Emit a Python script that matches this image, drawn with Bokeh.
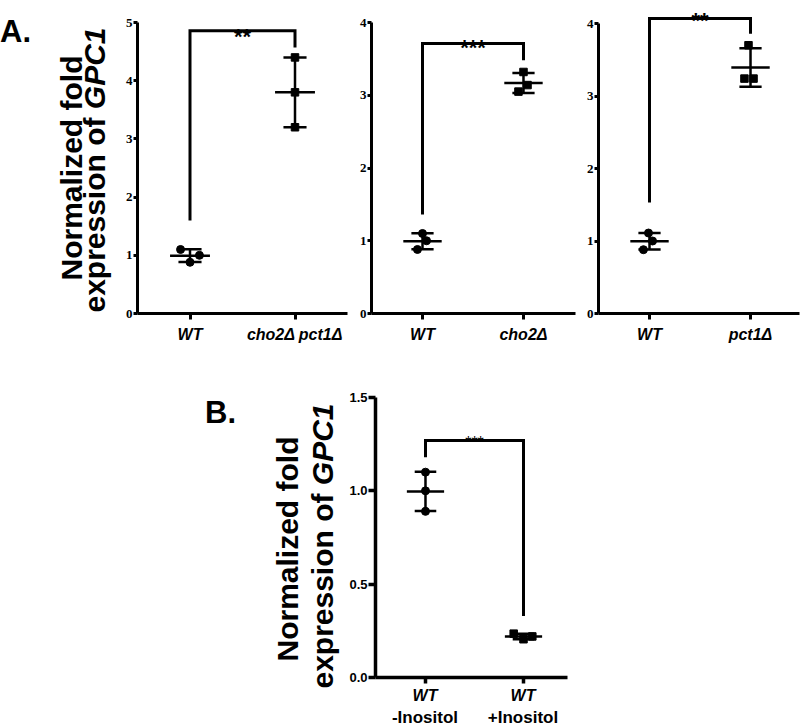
import numpy as np
from bokeh.plotting import figure
from bokeh.models import Label, FixedTicker, Range1d, NumeralTickFormatter, Div
from bokeh.layouts import row, column
from bokeh.embed import file_html
from bokeh.resources import INLINE

# ---------------- data ----------------
a1_groups = ["WT", "cho2Δ pct1Δ"]
a1_ctrl = [1.10, 1.00, 0.88]
a1_mut = [4.40, 3.80, 3.20]
a1_ctrl_jit = [-0.09, 0.09, 0.00]
a1_mut_jit = [0.0, 0.0, 0.0]
a1_yticks = [0, 1, 2, 3, 4, 5]
a1_sig = "**"
a1_bracket = [1.60, 4.86, 4.57]      # left leg end, top, right leg end

a2_groups = ["WT", "cho2Δ"]
a2_ctrl = [1.10, 1.00, 0.88]
a2_mut = [3.32, 3.14, 3.05]
a2_ctrl_jit = [0.0, 0.04, -0.05]
a2_mut_jit = [0.0, 0.04, -0.05]
a2_yticks = [0, 1, 2, 3, 4]
a2_sig = "***"
a2_bracket = [1.36, 3.71, 3.48]

a3_groups = ["WT", "pct1Δ"]
a3_ctrl = [1.11, 1.00, 0.88]
a3_mut = [3.70, 3.24, 3.24]
a3_ctrl_jit = [-0.01, 0.03, -0.06]
a3_mut_jit = [-0.02, -0.06, 0.03]
a3_yticks = [0, 1, 2, 3, 4]
a3_sig = "**"
a3_bracket = [1.53, 4.07, 3.86]

b_groups = ["WT", "WT"]
b_conditions = ["-Inositol", "+Inositol"]
b_ctrl = [1.10, 1.00, 0.89]
b_mut = [0.235, 0.205, 0.22]
b_ctrl_jit = [0.0, 0.0, 0.0]
b_mut_jit = [-0.10, 0.0, 0.09]
b_yticks = [0.0, 0.5, 1.0, 1.5]
b_sig = "***"
b_bracket = [1.18, 1.27, 0.33]

ylabel_line1 = "Normalized fold"
ylabel_line2 = "expression of"
ylabel_gene = "GPC1"

FONT = "Liberation Sans"
NARROW = "Liberation Sans Narrow"


class Geo:
    def __init__(self, cl, ct, w, h, bl, br, bt, bb, xr, yr):
        self.cl, self.ct, self.w, self.h = cl, ct, w, h
        self.bl, self.br, self.bt, self.bb = bl, br, bt, bb
        self.xr, self.yr = xr, yr
        self.xppu = (w - bl - br) / (xr[1] - xr[0])
        self.yppu = (h - bt - bb) / (yr[1] - yr[0])

    def sx(self, x):
        return self.cl + self.bl + (x - self.xr[0]) * self.xppu


def build(g, groups, ctrl, mut, ctrl_jit, mut_jit, yticks, sig, bracket,
          ytick_font, ytick_size, ytick_out, xlab_size, star_size, star_style, star_gap,
          axis_w, mean_hw=0.19, cap_hw=0.11, yformat=None, show_xlabels=True):
    p = figure(width=g.w, height=g.h, x_range=Range1d(*g.xr), y_range=Range1d(*g.yr),
               min_border_left=g.bl, min_border_right=g.br, min_border_top=g.bt,
               min_border_bottom=g.bb, output_backend="svg", toolbar_location=None,
               title=None)
    p.outline_line_color = None
    p.xgrid.visible = False
    p.ygrid.visible = False
    p.background_fill_color = "white"
    p.border_fill_color = "white"

    for ax in (p.xaxis[0], p.yaxis[0]):
        ax.axis_line_width = axis_w
        ax.axis_line_color = "black"
        ax.major_tick_line_width = axis_w
        ax.major_tick_line_color = "black"
        ax.major_tick_in = 0
        ax.minor_tick_line_color = None
    p.yaxis.ticker = FixedTicker(ticks=yticks)
    p.yaxis.bounds = (yticks[0], yticks[-1])
    p.yaxis.major_tick_out = ytick_out
    p.yaxis.major_label_standoff = 1
    p.yaxis.major_label_text_font = ytick_font
    p.yaxis.major_label_text_font_style = "bold"
    p.yaxis.major_label_text_font_size = ytick_size
    p.yaxis.major_label_text_color = "black"
    if yformat:
        p.yaxis.formatter = NumeralTickFormatter(format=yformat)
    p.xaxis.ticker = FixedTicker(ticks=[1, 2])
    p.xaxis.major_tick_out = 6
    if show_xlabels:
        p.xaxis.major_label_overrides = {1: groups[0], 2: groups[1]}
        p.xaxis.major_label_standoff = 6
        p.xaxis.major_label_text_font = FONT
        p.xaxis.major_label_text_font_style = "bold italic"
        p.xaxis.major_label_text_font_size = xlab_size
        p.xaxis.major_label_text_color = "black"
    else:
        p.xaxis.major_label_overrides = {1: "", 2: ""}
        p.xaxis.major_label_standoff = 0
        p.xaxis.major_label_text_font_size = "0px"

    for xc, vals, jit, marker, size in ((1, ctrl, ctrl_jit, "circle", 8),
                                         (2, mut, mut_jit, "square", 7.5)):
        v = np.asarray(vals, dtype=float)
        m = v.mean()
        sd = v.std(ddof=1)
        p.segment(x0=[xc], y0=[m - sd], x1=[xc], y1=[m + sd], line_width=2.5, line_color="black")
        p.segment(x0=[xc - mean_hw], y0=[m], x1=[xc + mean_hw], y1=[m], line_width=2.5, line_color="black")
        p.segment(x0=[xc - cap_hw, xc - cap_hw], y0=[m - sd, m + sd],
                  x1=[xc + cap_hw, xc + cap_hw], y1=[m - sd, m + sd],
                  line_width=2.5, line_color="black")
        p.scatter(x=list(xc + np.asarray(jit)), y=list(v), marker=marker, size=size,
                  fill_color="black", line_color="black")

    p.line(x=[1, 1, 2, 2], y=[bracket[0], bracket[1], bracket[1], bracket[2]],
           line_width=3, line_color="black", line_join="miter")
    p.add_layout(Label(x=1.5, y=bracket[1] - star_gap / g.yppu, text=sig, text_align="center",
                       text_baseline="alphabetic", text_font=FONT,
                       text_font_style=star_style, text_font_size=star_size,
                       text_color="black"))
    return p


def span(x, y, html, size, style="bold", rotate=False, anchor="center"):
    tr = "translate(-50%,-50%) rotate(-90deg)" if rotate else (
        "translate(-50%,0)" if anchor == "center" else "none")
    return (f"<span style=\"position:absolute;left:{x:.1f}px;top:{y:.1f}px;"
            f"transform:{tr};white-space:nowrap;font-family:'{FONT}';"
            f"font-weight:bold;font-style:{'italic' if 'italic' in style else 'normal'};"
            f"font-size:{size}px;line-height:1;color:black;\">{html}</span>")


def box(w, h, inner):
    return (f"<div style=\"position:relative;width:{w}px;height:{h}px;"
            f"overflow:hidden;margin:0;padding:0;\">{inner}</div>")


# geometry (page px): canvas left/top, size, borders, ranges
gA1 = Geo(120, 0, 229, 348, 17, 2, 0, 35, (0.5, 2.5), (0, 313 / 58.2))
gA2 = Geo(349, 0, 228, 348, 22, 2, 0, 35, (0.495, 2.515), (0, 313 / 72.75))
gA3 = Geo(577, 0, 223, 348, 21, 1, 0, 35, (0.495, 2.485), (0, 313 / 72.5))
gB = Geo(345, 348, 225, 338, 30, 3, 42, 9, (0.49, 2.449), (0, 287 / 186.67))

pA1 = build(gA1, a1_groups, a1_ctrl, a1_mut, a1_ctrl_jit, a1_mut_jit, a1_yticks, a1_sig,
            a1_bracket, NARROW, "13px", 4, "16px", "22px", "bold", 5.8, 3)
pA2 = build(gA2, a2_groups, a2_ctrl, a2_mut, a2_ctrl_jit, a2_mut_jit, a2_yticks, a2_sig,
            a2_bracket, NARROW, "13px", 4, "16px", "22px", "bold", 3.8, 3)
pA3 = build(gA3, a3_groups, a3_ctrl, a3_mut, a3_ctrl_jit, a3_mut_jit, a3_yticks, a3_sig,
            a3_bracket, NARROW, "13px", 4, "16px", "22px", "bold", 1.8, 3)
pB = build(gB, b_groups, b_ctrl, b_mut, b_ctrl_jit, b_mut_jit, b_yticks, b_sig,
           b_bracket, FONT, "13px", 7, "16px", "16px", "normal", 1.8, 3.5, yformat="0.0",
           show_xlabels=False)

ylab2 = f"{ylabel_line2} <i>{ylabel_gene}</i>"

# panel A: letter + y-axis title (left of the first plot)
divA = Div(width=120, height=348, margin=0, text=box(120, 348,
    span(0, 15.8, "A.", 31, anchor="left")
    + span(71.6, 167.5, ylabel_line1, 30, rotate=True)
    + span(94.6, 170.0, ylab2, 30, rotate=True)))

# panel B: letter + y-axis title
divB = Div(width=345, height=380, margin=0, text=box(345, 380,
    span(205, 48.8, "B.", 31, anchor="left")
    + span(287.6, 201.0, ylabel_line1, 30, rotate=True)
    + span(322.6, 198.0, ylab2, 30, rotate=True)))

# panel B: category labels under the axis
cond_html = ""
for i, (grp, cond) in enumerate(zip(b_groups, b_conditions)):
    cx = gB.sx(i + 1) - gB.cl
    cond_html += span(cx, 1.9, grp, 16, style="bold italic")
    cond_html += span(cx, 22.6, cond, 17)
divC = Div(width=225, height=42, margin=0, text=box(225, 42, cond_html))

layout = column(row(divA, pA1, pA2, pA3),
                row(divB, column(pB, divC)))
open("out.html", "w").write(file_html(layout, INLINE))
